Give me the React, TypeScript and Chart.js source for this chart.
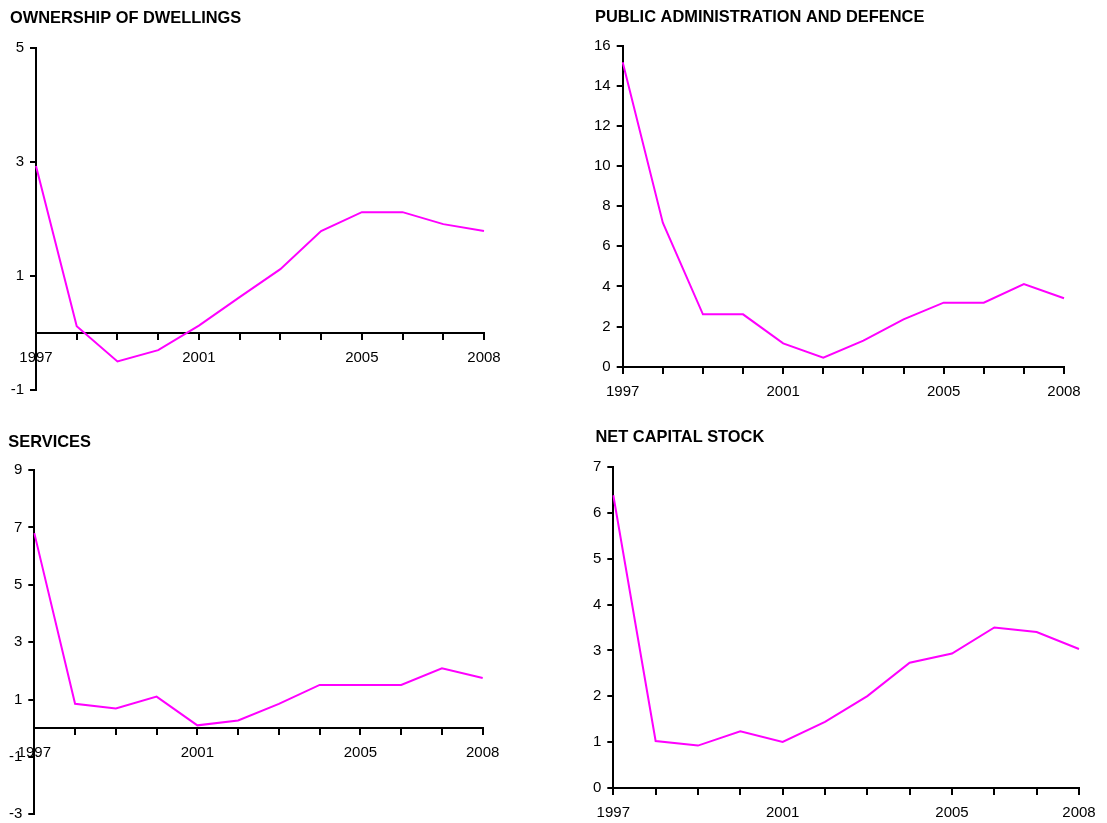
import React, { useEffect, useRef } from "react";
import { Chart, registerables } from "chart.js";

Chart.register(...registerables);

const years = ["1997", "1998", "1999", "2000", "2001", "2002", "2003", "2004", "2005", "2006", "2007", "2008"];
const shownYears = ["1997", "2001", "2005", "2008"];

const dwellings = [2.93, 0.12, -0.5, -0.3, 0.13, 0.63, 1.12, 1.79, 2.12, 2.12, 1.91, 1.79];
const publicAdmin = [15.17, 7.18, 2.61, 2.61, 1.16, 0.45, 1.3, 2.36, 3.19, 3.19, 4.12, 3.41];
const services = [6.8, 0.85, 0.69, 1.1, 0.1, 0.27, 0.85, 1.51, 1.51, 1.51, 2.09, 1.75];
const netCapital = [6.39, 1.02, 0.92, 1.23, 1.0, 1.44, 2.0, 2.73, 2.93, 3.5, 3.4, 3.03];

const titles = ["OWNERSHIP OF DWELLINGS", "PUBLIC ADMINISTRATION AND DEFENCE", "SERVICES", "NET CAPITAL STOCK"];

type Panel = {
  title: string;
  data: number[];
  min: number;
  max: number;
  step: number;
  canvas: { x: number; y: number; w: number; h: number };
  tx: number;
  tb: number;
  area: { l: number; t: number; r: number; b: number };
};

const panels: Panel[] = [
  { title: titles[0], data: dwellings, min: -1, max: 5, step: 2, canvas: { x: 0, y: 0, w: 553, h: 410 }, tx: 10, tb: 22.7, area: { l: 36, t: 48, r: 484, b: 390 } },
  { title: titles[1], data: publicAdmin, min: 0, max: 16, step: 2, canvas: { x: 560, y: 0, w: 547, h: 410 }, tx: 595, tb: 22.2, area: { l: 622.7, t: 45.7, r: 1064, b: 366.7 } },
  { title: titles[2], data: services, min: -3, max: 9, step: 2, canvas: { x: 0, y: 410, w: 553, h: 413 }, tx: 8.3, tb: 446.7, area: { l: 34.3, t: 470, r: 482.7, b: 814.3 } },
  { title: titles[3], data: netCapital, min: 0, max: 7, step: 1, canvas: { x: 560, y: 410, w: 547, h: 413 }, tx: 595.5, tb: 442, area: { l: 613.3, t: 467.3, r: 1079, b: 787.7 } },
];

const TICK_FONT = { family: "Liberation Sans", size: 15 };

function PanelChart({ p }: { p: Panel }) {
  const ref = useRef<HTMLCanvasElement | null>(null);
  useEffect(() => {
    if (!ref.current) return;
    const c = p.canvas;
    const a = p.area;
    const yWidth = Math.min(40, a.l - c.x);
    const padLeft = a.l - yWidth - c.x;
    const padRight = c.x + c.w - a.r;
    const padBottom = c.y + c.h - a.b;
    const padTop = a.t - c.y;
    const titlePlugin = {
      id: "panelTitle",
      afterDraw(chart: any) {
        const ctx = chart.ctx;
        ctx.save();
        ctx.font = "bold 16.4px 'Liberation Sans'";
        ctx.fillStyle = "#000";
        ctx.textAlign = "left";
        ctx.textBaseline = "alphabetic";
        ctx.fillText(p.title, p.tx - c.x, p.tb - c.y);
        ctx.restore();
      },
    };
    const chart = new Chart(ref.current, {
      type: "line",
      data: {
        labels: years,
        datasets: [
          {
            data: p.data,
            borderColor: "#FF00FF",
            backgroundColor: "#FF00FF",
            borderWidth: 2,
            pointRadius: 0,
            tension: 0,
            fill: false,
          },
        ],
      },
      plugins: [titlePlugin],
      options: {
        responsive: false,
        animation: false,
        devicePixelRatio: 1,
        layout: { padding: { left: padLeft, right: padRight, top: padTop, bottom: padBottom } },
        plugins: {
          legend: { display: false },
          tooltip: { enabled: false },
          title: { display: false },
        },
        scales: {
          x: {
            type: "category",
            position: { y: 0 } as any,
            grid: { display: true, drawOnChartArea: false, drawTicks: true, tickLength: 6, color: "#000", lineWidth: 2 },
            border: { display: true, color: "#000", width: 2 },
            ticks: {
              autoSkip: false,
              maxRotation: 0,
              minRotation: 0,
              padding: 10,
              color: "#000",
              font: TICK_FONT,
              callback: (_v: any, i: number) => (shownYears.includes(years[i]) ? years[i] : ""),
            },
            afterFit: (s: any) => {
              s.paddingLeft = 0;
              s.paddingRight = 0;
              s.paddingTop = 0;
              s.paddingBottom = 0;
            },
          },
          y: {
            type: "linear",
            position: "left",
            min: p.min,
            max: p.max,
            grid: { display: true, drawOnChartArea: false, drawTicks: true, tickLength: 6, color: "#000", lineWidth: 2 },
            border: { display: true, color: "#000", width: 2 },
            ticks: {
              stepSize: p.step,
              padding: 6,
              color: "#000",
              font: TICK_FONT,
            },
            afterFit: (s: any) => {
              s.width = yWidth;
              s.paddingLeft = 0;
              s.paddingRight = 0;
              s.paddingTop = 0;
              s.paddingBottom = 0;
            },
          },
        },
      },
    });
    return () => chart.destroy();
  }, [p]);
  return (
    <canvas
      ref={ref}
      width={p.canvas.w}
      height={p.canvas.h}
      style={{ position: "absolute", left: p.canvas.x, top: p.canvas.y, width: p.canvas.w, height: p.canvas.h }}
    />
  );
}

export default function App() {
  return (
    <div style={{ position: "absolute", left: 0, top: 0, width: 1107, height: 823, background: "#fff" }}>
      {panels.map((p, i) => (
        <PanelChart key={i} p={p} />
      ))}
    </div>
  );
}
